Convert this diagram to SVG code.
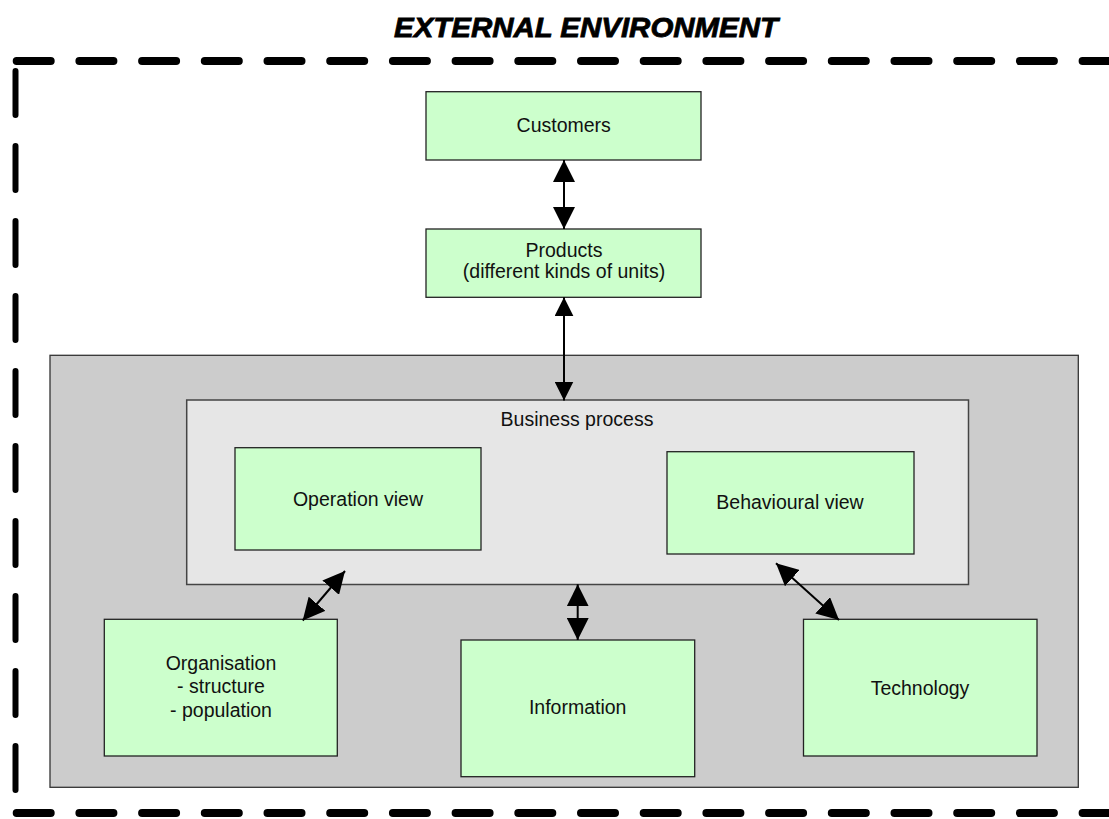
<svg xmlns="http://www.w3.org/2000/svg" width="1109" height="819" viewBox="0 0 1109 819">
  <style>
    .lbl { font-family: "Liberation Sans", Arial, sans-serif; font-size: 19.5px; fill: #111; text-anchor: middle; }
    .title { font-family: "Liberation Sans", Arial, sans-serif; font-size: 28px; font-weight: bold; font-style: italic; fill: #000; text-anchor: middle; stroke: #000; stroke-width: 0.8; }
    .green { fill: #CCFFCC; stroke: #222; stroke-width: 1.3; }
    .outer { fill: #CCCCCC; stroke: #333; stroke-width: 1.3; }
    .inner { fill: #E6E6E6; stroke: #444; stroke-width: 1.5; }
    .env-h { fill: none; stroke: #000; stroke-width: 8; stroke-linecap: round; stroke-dasharray: 34 28.7; }
    .env-v { fill: none; stroke: #000; stroke-width: 6; stroke-linecap: round; stroke-dasharray: 44 31; }
    .conn { fill: none; stroke: #000; stroke-width: 2; }
  </style>
  <defs>
    <marker id="headL" markerUnits="userSpaceOnUse" markerWidth="22" markerHeight="22" refX="22" refY="11" orient="auto-start-reverse" viewBox="0 0 22 22">
      <path d="M0,0 L22,11 L0,22 Z" fill="#000"/>
    </marker>
    <marker id="headS" markerUnits="userSpaceOnUse" markerWidth="19" markerHeight="19" refX="19" refY="9.5" orient="auto-start-reverse" viewBox="0 0 19 19">
      <path d="M0,0 L19,9.5 L0,19 Z" fill="#000"/>
    </marker>
  </defs>

  <rect width="1109" height="819" fill="#FFFFFF"/>

  <!-- external environment boundary -->
  <g id="environment">
    <text class="title" x="586" y="37" textLength="384" lengthAdjust="spacingAndGlyphs">EXTERNAL ENVIRONMENT</text>
    <line class="env-h" x1="16.7" y1="61" x2="1140" y2="61"/>
    <line class="env-h" x1="16.7" y1="813" x2="1140" y2="813"/>
    <line class="env-v" x1="15.5" y1="71" x2="15.5" y2="800"/>
  </g>

  <!-- enterprise container -->
  <g id="enterprise">
    <rect class="outer" x="50" y="355.3" width="1028.3" height="432"/>
  </g>

  <g id="business-process">
    <rect class="inner" x="186.7" y="400" width="781.8" height="184.5"/>
    <text class="lbl" x="577" y="425.5">Business process</text>
  </g>

  <g id="customers">
    <rect class="green" x="426" y="91.7" width="275" height="68.3"/>
    <text class="lbl" x="563.7" y="132">Customers</text>
  </g>

  <g id="products">
    <rect class="green" x="426" y="229" width="275" height="68.3"/>
    <text class="lbl" x="564" y="256.7">Products</text>
    <text class="lbl" x="564" y="278.3">(different kinds of units)</text>
  </g>

  <g id="operation-view">
    <rect class="green" x="235" y="447.7" width="246" height="102.3"/>
    <text class="lbl" x="358" y="506">Operation view</text>
  </g>

  <g id="behavioural-view">
    <rect class="green" x="667" y="451.7" width="247" height="102.3"/>
    <text class="lbl" x="790" y="509">Behavioural view</text>
  </g>

  <g id="organisation">
    <rect class="green" x="104.3" y="619.3" width="233" height="136.7"/>
    <text class="lbl" x="221" y="670">Organisation</text>
    <text class="lbl" x="221" y="693">- structure</text>
    <text class="lbl" x="221" y="716.5">- population</text>
  </g>

  <g id="information">
    <rect class="green" x="461" y="640" width="233.7" height="136.7"/>
    <text class="lbl" x="577.7" y="714.3">Information</text>
  </g>

  <g id="technology">
    <rect class="green" x="803.5" y="619.3" width="233.5" height="136.7"/>
    <text class="lbl" x="920" y="694.5">Technology</text>
  </g>

  <!-- two-way connectors -->
  <g id="connectors">
    <line class="conn" x1="564" y1="160" x2="564" y2="229" marker-start="url(#headL)" marker-end="url(#headL)"/>
    <line class="conn" x1="564" y1="297.3" x2="564" y2="400.5" marker-start="url(#headS)" marker-end="url(#headS)"/>
    <line class="conn" x1="577.7" y1="584.3" x2="577.7" y2="640" marker-start="url(#headL)" marker-end="url(#headL)"/>
    <line class="conn" x1="345" y1="571" x2="302.7" y2="620.5" marker-start="url(#headL)" marker-end="url(#headL)"/>
    <line class="conn" x1="776" y1="563.3" x2="839" y2="620" marker-start="url(#headL)" marker-end="url(#headL)"/>
  </g>
</svg>
